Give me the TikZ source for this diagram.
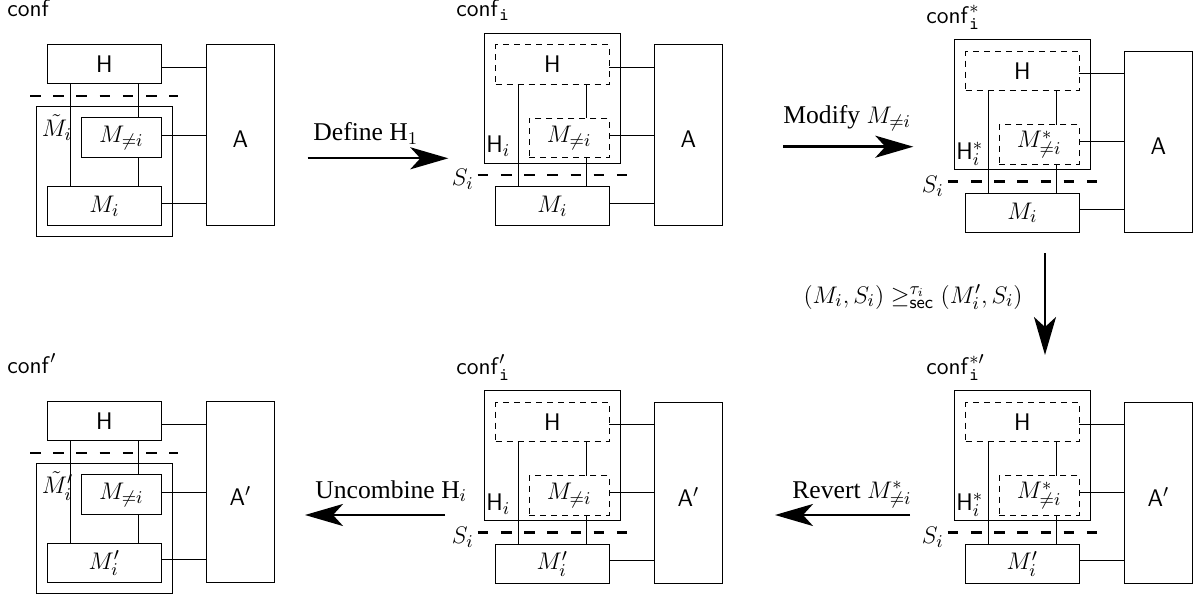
\documentclass[tikz,border=0pt]{standalone}
\usepackage[no-math]{fontspec}
\setmainfont{Liberation Serif}
\usetikzlibrary{arrows.meta}

% box from its corners (x1,y1)-(x2,y2), given in the picture's units
\newcommand\mkbox[7]{%
  \node[#1, minimum width={(#5-#3)*0.5pt}, minimum height={(#6-#4)*0.5pt}]
    (#2) at ({(#3+#5)/2},{(#4+#6)/2}) {#7};}

\tikzset{
  box/.style={draw, line width=0.5pt, inner sep=0pt, outer sep=0pt},
  dbox/.style={box, dash pattern=on 3pt off 2.5pt},
  cut/.style={line width=1.1pt, dash pattern=on 5.3pt off 6.3pt},
  wire/.style={line width=0.5pt},
  arr/.style={line width=1.2pt, -{Stealth[length=19pt,width=11pt,inset=5pt]}},
  alabel/.style={label={[yshift=-2pt]center:#1}},
  txt/.style={anchor=base west, inner sep=0pt},
  txtr/.style={anchor=base east, inner sep=0pt},
}

% configuration with the adversary split off by a single cut
% #1 prefix, #2 vertical shift, #3 title, #4 outer label, #5 lower box, #6 adversary
\newcommand\plainpanel[6]{%
\begin{scope}[shift={(0,#2)}]
  \node[txt] (#1conf) at (7,17) {#3};
  \mkbox{box}{#1H}{47.7}{45}{161}{84}{$\mathsf{H}$}
  \mkbox{box}{#1Mt}{36}{107}{172.5}{237}{}
  \mkbox{box}{#1Mn}{81.7}{118}{161}{158}{$M_{\neq i}$}
  \mkbox{box}{#1Mi}{47.7}{186.7}{161}{226}{#5}
  \mkbox{box, alabel={#6}}{#1A}{206.3}{45}{274.3}{225.7}{}
  \node[txt] (#1tl) at (41.5,137) {#4};
  \coordinate (#1s0) at (30,96);
  \coordinate (#1s1) at (178,96);
  \draw[cut] (#1s0) -- (#1s1);
  \coordinate (#1xa) at (70,0);
  \coordinate (#1xb) at (138.3,0);
  \draw[wire] (#1H.south -| #1xa) -- (#1Mi.north -| #1xa);
  \draw[wire] (#1H.south -| #1xb) -- (#1Mn.north -| #1xb);
  \draw[wire] (#1Mn.south -| #1xb) -- (#1Mi.north -| #1xb);
  \coordinate (#1hH) at ([yshift=-1.4pt]#1H.east);
  \coordinate (#1hN) at ([yshift=1.15pt]#1Mn.east);
  \coordinate (#1hM) at ([yshift=1.65pt]#1Mi.east);
  \draw[wire] (#1hH) -- (#1hH -| #1A.west);
  \draw[wire] (#1hN) -- (#1hN -| #1A.west);
  \draw[wire] (#1hM) -- (#1hM -| #1A.west);
\end{scope}}

% configuration with the combined honest part H_i
% #1 prefix, #2 dx, #3 dy, #4 title, #5 H label, #6 middle box, #7 lower box, #8 adversary
\newcommand\combpanel[8]{%
\begin{scope}[shift={(#2,#3)}]
  \node[txt] (#1conf) at (456,17) {#4};
  \mkbox{box}{#1O}{484.3}{33.3}{620.3}{163.3}{}
  \mkbox{dbox}{#1H}{495.7}{45}{609}{84.3}{$\mathsf{H}$}
  \mkbox{dbox}{#1Mn}{529.3}{118.3}{609}{158}{#6}
  \node[txt] (#1hl) at (486,153) {#5};
  \mkbox{box}{#1Mi}{495.7}{186.7}{609}{226}{#7}
  \mkbox{box, alabel={#8}}{#1A}{654}{45}{722.7}{226}{}
  \coordinate (#1s0) at (477.7,175);
  \coordinate (#1s1) at (626.7,175);
  \draw[cut] (#1s0) -- (#1s1);
  \node[txtr] (#1sl) at (474,186) {$S_i$};
  \coordinate (#1xa) at (518.3,0);
  \coordinate (#1xb) at (586.7,0);
  \draw[wire] (#1H.south -| #1xa) -- (#1Mi.north -| #1xa);
  \draw[wire] (#1H.south -| #1xb) -- (#1Mn.north -| #1xb);
  \draw[wire] (#1Mn.south -| #1xb) -- (#1Mi.north -| #1xb);
  \coordinate (#1hH) at ([yshift=-1.3pt]#1H.east);
  \coordinate (#1hN) at ([yshift=1.4pt]#1Mn.east);
  \coordinate (#1hM) at ([yshift=1.65pt]#1Mi.east);
  \draw[wire] (#1hH) -- (#1hH -| #1A.west);
  \draw[wire] (#1hN) -- (#1hN -| #1A.west);
  \draw[wire] (#1hM) -- (#1hM -| #1A.west);
\end{scope}}

\begin{document}
\begin{tikzpicture}[x=0.5pt, y=-0.5pt, font=\fontsize{12.8}{15}\selectfont]
  \useasboundingbox (0,0) rectangle (1201,599);

  % top row
  \plainpanel{p1}{0}{$\mathsf{conf}$}{$\tilde{M}_i$}{$M_i$}{$\mathsf{A}$}
  \combpanel{p2}{0}{0}{$\mathsf{conf}_{\mathtt{i}}$}{$\mathsf{H}_i$}{$M_{\neq i}$}{$M_i$}{$\mathsf{A}$}
  \combpanel{p3}{470}{6.5}{$\mathsf{conf}^{*}_{\mathtt{i}}$}{$\mathsf{H}^{*}_i$}{$M^{*}_{\neq i}$}{$M_i$}{$\mathsf{A}$}

  % bottom row
  \plainpanel{p4}{356.7}{$\mathsf{conf}'$}{$\tilde{M}'_i$}{$M'_i$}{$\mathsf{A}'$}
  \combpanel{p5}{0}{357.4}{$\mathsf{conf}'_{\mathtt{i}}$}{$\mathsf{H}_i$}{$M_{\neq i}$}{$M'_i$}{$\mathsf{A}'$}
  \combpanel{p6}{470}{357.4}{$\mathsf{conf}^{*\prime}_{\mathtt{i}}$}{$\mathsf{H}^{*}_i$}{$M^{*}_{\neq i}$}{$M'_i$}{$\mathsf{A}'$}

  % transformation steps
  \coordinate (d0) at (307.7,158.3);
  \coordinate (d1) at (448.3,158.3);
  \draw[arr] (d0) -- (d1);
  \node[txt] (dl) at (313,141) {Define H$_1$};

  \coordinate (m0) at (783.3,146.7);
  \coordinate (m1) at (913.3,146.7);
  \draw[arr] (m0) -- (m1);
  \node[txt] (ml) at (783,123.5) {Modify $M_{\neq i}$};

  \coordinate (v0) at (1045,253.3);
  \coordinate (v1) at (1045,355);
  \draw[arr] (v0) -- (v1);
  \node[txtr] (vl) at (1023,303) {$(M_i,S_i)\geq^{\tau_i}_{\mathsf{sec}}(M'_i,S_i)$};

  \coordinate (r0) at (910,515);
  \coordinate (r1) at (775,515);
  \draw[arr] (r0) -- (r1);
  \node[txt] (rl) at (792,498) {Revert $M^{*}_{\neq i}$};

  \coordinate (u0) at (445,515);
  \coordinate (u1) at (305,515);
  \draw[arr] (u0) -- (u1);
  \node[txt] (ul) at (315,498) {Uncombine H$_i$};
\end{tikzpicture}
\end{document}
